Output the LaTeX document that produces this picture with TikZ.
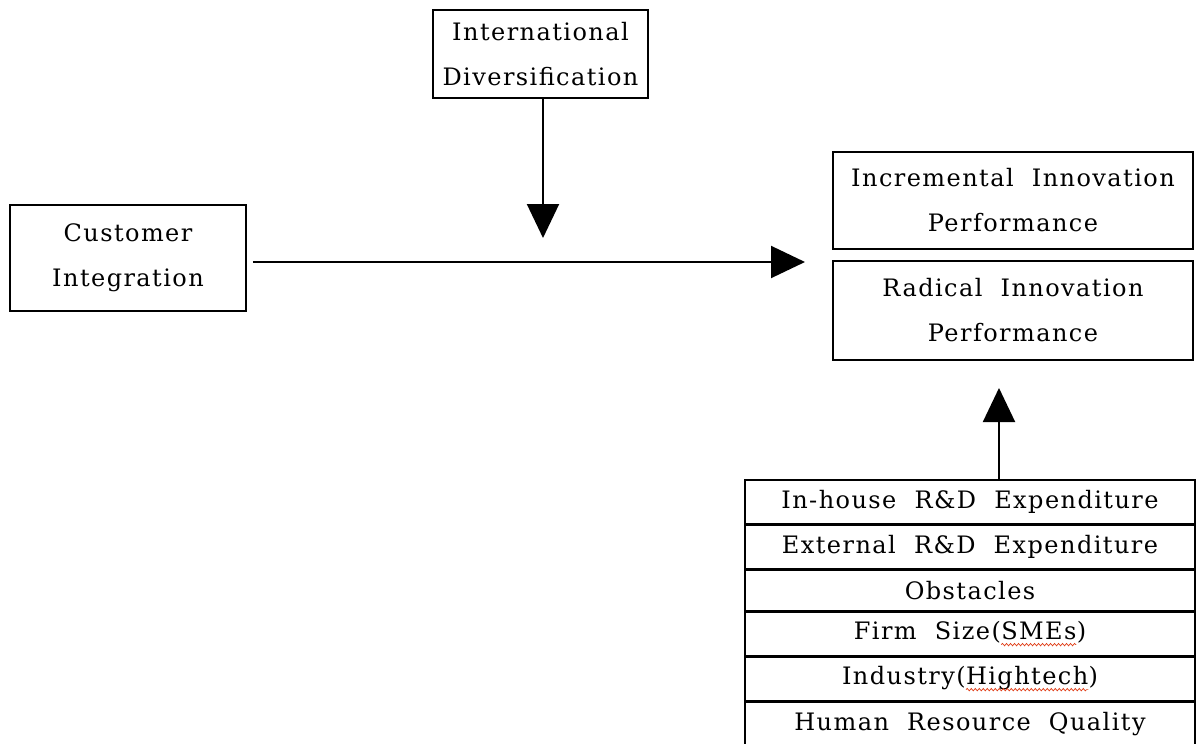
\documentclass[tikz,border=0pt]{standalone}
\usepackage{fontspec}
\setmainfont[LetterSpace=6,WordSpace=2]{DejaVu Serif}
\usepackage{tikz}
\usetikzlibrary{arrows.meta}
\usetikzlibrary{positioning}
\usetikzlibrary{decorations.pathmorphing}
\definecolor{spell_red}{HTML}{E0401A}
\newcommand{\spellwave}[1]{\tikz[baseline=(sw.base)]{\node[draw=none, minimum width=0pt, minimum height=0pt,
        inner sep=0pt, outer sep=0pt] (sw) {#1};
    \draw[spell_red, line width=0.35pt, decorate, decoration={snake, amplitude=0.6pt, segment length=2pt}]
        ([yshift=-2.6pt]sw.base west) -- ([yshift=-2.6pt]sw.base east);}}

\tikzset{
    box/.style={draw, line width=0.8pt, align=center, inner sep=0pt,
        font=\fontsize{12}{22.5}\selectfont},
    row/.style={draw, line width=0.8pt, inner sep=0pt, minimum width=225pt,
        minimum height=21.7pt, font=\fontsize{12}{14}\selectfont},
    arr/.style={line width=1pt, -{Triangle[length=17pt,width=16pt]}}
}

\begin{document}
\begin{tikzpicture}[x=0.5pt,y=-0.5pt]
    \useasboundingbox (0,0) rectangle (1196,744);

    \node[box, minimum width=107.5pt, minimum height=44pt] (divers) at (540.5,54)
        {International\\Diversification};
    \node[box, minimum width=118pt, minimum height=53pt] (custint) at (128,258)
        {Customer\\Integration};
    \node[box, minimum width=180pt, minimum height=48.5pt] (increm) at (1013,200.5)
        {Incremental Innovation\\Performance};
    \node[box, minimum width=180pt, minimum height=49.5pt] (radical) at (1013,310.5)
        {Radical Innovation\\Performance};

    % control variables
    \node[row] (ctrlA) at (970,501.7) {In-house R\&D Expenditure};
    \node[row, below=0pt of ctrlA] (ctrlB) {External R\&D Expenditure};
    \node[row, below=0pt of ctrlB, minimum height=20.2pt] (ctrlC) {Obstacles};
    \node[row, below=0pt of ctrlC] (ctrlD) {Firm Size(\spellwave{SMEs})};
    \node[row, below=0pt of ctrlD] (ctrlE) {Industry(\spellwave{Hightech})};
    \node[row, below=0pt of ctrlE] (ctrlF) {Human Resource Quality};

    \coordinate (mainTip) at (805,262);
    \coordinate (modTip) at (543,238);
    \coordinate (ctrlTip) at (999,388);

    \draw[arr, shorten <=3pt] (custint.east |- mainTip) -- (mainTip);
    \draw[arr] (divers.south -| modTip) -- (modTip);
    \draw[arr] (ctrlA.north -| ctrlTip) -- (ctrlTip);

\end{tikzpicture}
\end{document}
